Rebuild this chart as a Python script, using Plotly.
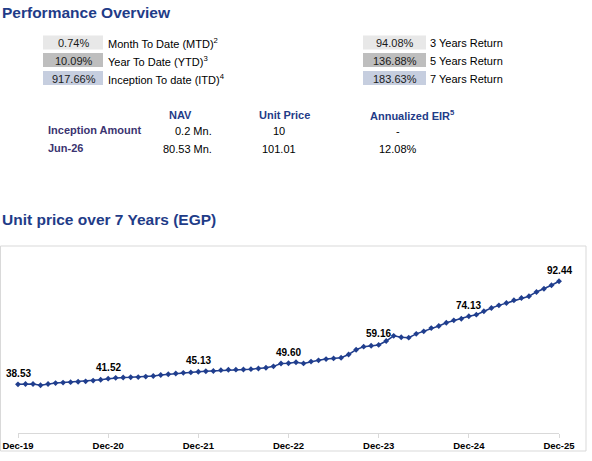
import pandas as pd
import plotly.graph_objects as go

W, H = 592, 461

# monthly unit price, Dec-19 .. Dec-25
months = list(pd.date_range("2019-12-01", periods=73, freq="MS").strftime("%b-%y"))
unit_price = [
    38.53,
    38.70, 38.75, 38.05, 38.75, 39.20, 39.45, 39.70, 39.90, 40.10, 40.50, 40.95, 41.52,
    41.95, 42.15, 42.25, 42.35, 42.60, 42.90, 43.45, 43.85, 44.20, 44.55, 44.80, 45.13,
    45.38, 45.53, 45.95, 46.20, 46.22, 46.30, 46.50, 46.85, 47.20, 47.95, 49.45, 49.60,
    50.10, 49.50, 50.45, 51.10, 51.75, 52.10, 52.45, 54.15, 56.65, 58.25, 58.75, 59.16,
    61.20, 63.90, 63.20, 62.95, 64.95, 66.25, 67.95, 69.05, 70.75, 72.00, 72.85, 74.13,
    74.97, 76.75, 78.45, 79.85, 81.10, 82.50, 83.70, 84.60, 86.85, 88.55, 90.35, 92.44,
]
tick_months = ["Dec-19", "Dec-20", "Dec-21", "Dec-22", "Dec-23", "Dec-24", "Dec-25"]

# performance overview
perf_left_values = ["0.74%", "10.09%", "917.66%"]
perf_left_labels = ["Month To Date (MTD)<sup>2</sup>", "Year To Date (YTD)<sup>3</sup>",
                    "Inception To date (ITD)<sup>4</sup>"]
perf_right_values = ["94.08%", "136.88%", "183.63%"]
perf_right_labels = ["3 Years Return", "5 Years Return", "7 Years Return"]
box_colors = ["#E8E8E8", "#BEBEBE", "#C6CEDF"]

# NAV table
table_cols = ["NAV", "Unit Price", "Annualized EIR<sup>5</sup>"]
table_rows = ["Inception Amount", "Jun-26"]
table_nav = ["0.2 Mn.", "80.53 Mn."]
table_price = ["10", "101.01"]
table_eir = ["-", "12.08%"]

FONT = "Liberation Sans, Arial, sans-serif"
NAVY = "#1F3C88"
ROWC = "#3B3470"
LINE = "#203E8E"


def px(x):
    return x / W


def py(y):
    return 1 - y / H


fig = go.Figure()
fig.add_trace(go.Scatter(
    x=months, y=unit_price, mode="lines+markers",
    line=dict(color=LINE, width=1.5),
    marker=dict(symbol="diamond", size=4.5, color=LINE),
    cliponaxis=False, hoverinfo="x+y", showlegend=False,
))

ann = []
shapes = []

# year-end data labels above the points
for m in tick_months:
    v = unit_price[months.index(m)]
    ann.append(dict(x=m, y=v, xref="x", yref="y", text="<b>%.2f</b>" % v, showarrow=False,
                    xanchor="center", yanchor="middle", yshift=11,
                    font=dict(family=FONT, size=10, color="#000000")))


def txt(x, y, s, size=11, color="#000000", xanchor="left", bold=False):
    if bold:
        s = "<b>" + s + "</b>"
    ann.append(dict(x=px(x), y=py(y), xref="paper", yref="paper", text=s, showarrow=False,
                    xanchor=xanchor, yanchor="middle",
                    font=dict(family=FONT, size=size, color=color)))


txt(0, 12.5, "Performance Overview", size=15.5, color=NAVY, bold=True)
txt(0, 220, "Unit price over 7 Years (EGP)", size=15.5, color=NAVY, bold=True)

rows_y = [(35.5, 49.5), (53, 67), (71, 85)]
text_y = [43.3, 61, 79]
for i in range(3):
    y0, y1 = rows_y[i]
    shapes.append(dict(type="rect", xref="paper", yref="paper", x0=px(43), x1=px(103),
                       y0=py(y1), y1=py(y0), fillcolor=box_colors[i], line=dict(width=0), layer="below"))
    shapes.append(dict(type="rect", xref="paper", yref="paper", x0=px(363), x1=px(426),
                       y0=py(y1), y1=py(y0), fillcolor=box_colors[i], line=dict(width=0), layer="below"))
    txt(73.5, text_y[i], perf_left_values[i], color="#1A1A1A", xanchor="center")
    txt(106, text_y[i], perf_left_labels[i])
    txt(394.5, text_y[i], perf_right_values[i], color="#1A1A1A", xanchor="center")
    txt(428, text_y[i], perf_right_labels[i])

# table
txt(180.5, 115, table_cols[0], color=NAVY, xanchor="center", bold=True)
txt(284, 115, table_cols[1], color=NAVY, xanchor="center", bold=True)
txt(368, 114.5, table_cols[2], color=NAVY, xanchor="left", bold=True)
for i, yy in enumerate([130.5, 149]):
    txt(46, yy - 1, table_rows[i], color=ROWC, bold=True)
    txt(214, yy, table_nav[i], xanchor="right")
    txt(278.5, yy, table_price[i], xanchor="center")
    txt(397.5, yy, table_eir[i], xanchor="center")

# chart frame
shapes.append(dict(type="rect", xref="paper", yref="paper", x0=px(0.5), x1=px(586),
                   y0=py(451), y1=py(246), line=dict(color="#D9D9D9", width=1),
                   fillcolor="rgba(0,0,0,0)", layer="below"))

fig.update_layout(
    template="none",
    width=W, height=H, autosize=False,
    margin=dict(l=0, r=0, t=0, b=0, pad=0),
    paper_bgcolor="white", plot_bgcolor="white",
    font=dict(family=FONT, color="#000000"),
    annotations=ann, shapes=shapes,
    xaxis=dict(
        type="category", domain=[px(18), px(559)], range=[0, len(months) - 1],
        automargin=False,
        showgrid=False, zeroline=False, showline=True, linecolor="#D9D9D9", linewidth=1,
        ticks="outside", ticklen=4, tickcolor="#D9D9D9",
        tickvals=tick_months, ticktext=["<b>%s</b>" % m for m in tick_months],
        tickfont=dict(family=FONT, size=9.5, color="#000000"),
        fixedrange=True,
    ),
    yaxis=dict(
        domain=[py(432.5), py(260)], range=[13.36, 103.57],
        automargin=False, visible=False, fixedrange=True,
    ),
)

# page margin off so the 592x461 figure fills the window
fix_page = ("document.body.style.margin='0';document.body.style.overflow='hidden';"
            "Plotly.relayout(document.getElementById('{plot_id}'), {width: %d, height: %d});" % (W, H))
fig.write_html("out.html", post_script=fix_page, config={"displayModeBar": False})
